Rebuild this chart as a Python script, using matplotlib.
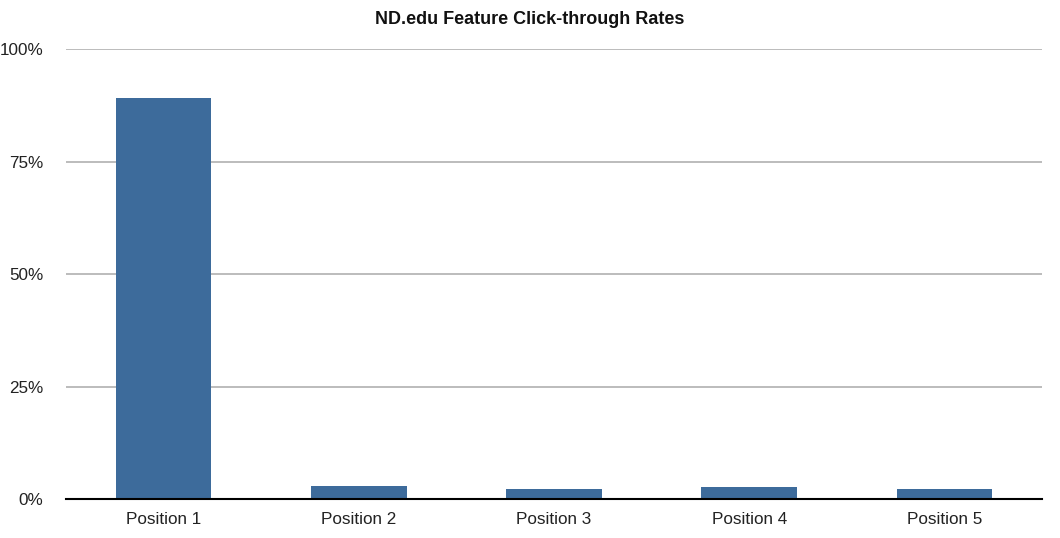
import numpy as np
import matplotlib
matplotlib.use("Agg")
import matplotlib.pyplot as plt
from matplotlib.ticker import FuncFormatter

plt.rcParams['font.family'] = ['Liberation Sans', 'DejaVu Sans']

# data
positions = ["Position 1", "Position 2", "Position 3", "Position 4", "Position 5"]
click_rates = [89.1, 3.0, 2.3, 2.7, 2.4]
y_ticks = [0, 25, 50, 75, 100]

fig = plt.figure(figsize=(10.6, 5.38), dpi=100)
ax = fig.add_axes([0.0623, 0.0719, 0.9207, 0.8365])

x = np.arange(len(positions))
ax.bar(x, click_rates, width=0.49, color="#3d6b9b", zorder=3)

ax.set_xlim(-0.5, len(positions) - 0.5)
ax.set_ylim(0, 100)
ax.set_yticks(y_ticks)
ax.yaxis.set_major_formatter(FuncFormatter(lambda v, p: f"{v:.0f}%"))
ax.set_xticks(x)
ax.set_xticklabels(positions)

ax.grid(axis="y", color="#b0b0b0", linewidth=1.2, zorder=0)
for s in ["top", "right", "left"]:
    ax.spines[s].set_visible(False)
ax.spines["bottom"].set_color("black")
ax.spines["bottom"].set_linewidth(1.5)
ax.spines["bottom"].set_zorder(4)
ax.tick_params(axis="both", length=0, labelsize=12.3, colors="#222222")
ax.tick_params(axis="y", pad=16.5)
ax.tick_params(axis="x", pad=9)

fig.text(0.5, 0.963, "ND.edu Feature Click-through Rates", ha="center", va="center",
         fontsize=13, fontweight="bold", color="#111111")

fig.savefig("out.png", dpi=100)
